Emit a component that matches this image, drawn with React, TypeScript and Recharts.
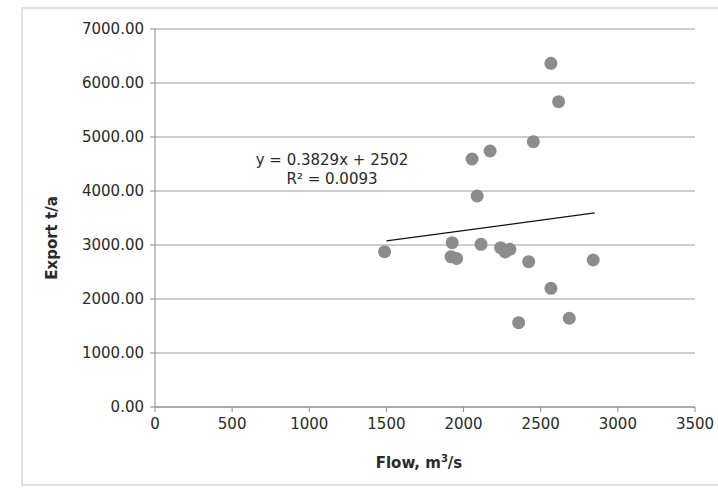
import React from "react";
import { ScatterChart, Scatter, XAxis, YAxis, CartesianGrid, ReferenceLine } from "recharts";

const flow = [1488, 1926, 1919, 1955, 2113, 2240, 2300, 2270, 2422, 2840, 2566, 2357, 2685, 2088, 2055, 2172, 2452, 2616, 2566];
const exportVals = [2876, 3043, 2783, 2750, 3013, 2950, 2920, 2870, 2691, 2722, 2198, 1561, 1643, 3907, 4593, 4741, 4913, 5654, 6365];
const xTicks = [0, 500, 1000, 1500, 2000, 2500, 3000, 3500];
const yTicks = [0, 1000, 2000, 3000, 4000, 5000, 6000, 7000];
const slope = 0.3829;
const intercept = 2502;
const trendRange = [1500, 2850];
const equationText = "y = 0.3829x + 2502";
const r2Text = "R\u00b2 = 0.0093";

const points = flow.map((x, i) => ({ x, y: exportVals[i] }));
const trend = trendRange.map((x) => ({ x, y: slope * x + intercept }));

const FONT = "'DejaVu Sans', 'Liberation Sans', Arial, sans-serif";

const Dot = (props: any) => {
  const { cx, cy } = props;
  return <circle cx={cx} cy={cy} r={6.5} fill="#8c8c8c" />;
};

const XTitle = (props: any) => {
  const vb = props.viewBox || {};
  const cx = (vb.x ?? 155) + (vb.width ?? 540) / 2 - 6;
  return (
    <text x={cx} y={468} textAnchor="middle" fontFamily={FONT} fontSize={15} fontWeight="bold" fill="#2a2a2a">
      <tspan>Flow, m</tspan>
      <tspan fontSize={10} dy={-6}>3</tspan>
      <tspan dy={6}>/s</tspan>
    </text>
  );
};

const YTitle = () => (
  <text
    x={52}
    y={238}
    textAnchor="middle"
    dominantBaseline="central"
    transform="rotate(-90 52 238)"
    fontFamily={FONT}
    fontSize={15}
    fontWeight="bold"
    fill="#2a2a2a"
  >
    Export t/a
  </text>
);

export default function App() {
  return (
    <div style={{ position: "absolute", left: 0, top: 0, width: 718, height: 490, background: "#fff", overflow: "hidden" }}>
      <div
        style={{
          position: "absolute",
          left: 21,
          top: 7,
          width: 720,
          height: 479,
          border: "2px solid #e2e2e2",
          boxSizing: "border-box",
        }}
      />
      <ScatterChart
        width={718}
        height={490}
        margin={{ top: 29, right: 23, bottom: 23, left: 0 }}
        style={{ position: "absolute", left: 0, top: 0 }}
      >
        <CartesianGrid horizontal vertical={false} stroke="#bdbdbd" strokeWidth={1.5} />
        <XAxis
          type="number"
          dataKey="x"
          domain={[0, 3500]}
          ticks={xTicks}
          interval={0}
          height={60}
          tickSize={5}
          tickMargin={6}
          stroke="#8a8a8a"
          tick={{ fontFamily: FONT, fontSize: 15, fill: "#2a2a2a" }}
          label={{ content: <XTitle /> } as any}
        />
        <YAxis
          type="number"
          dataKey="y"
          domain={[0, 7000]}
          ticks={yTicks}
          interval={0}
          width={155}
          tickSize={5}
          tickMargin={6}
          stroke="#8a8a8a"
          tickFormatter={(v: number) => v.toFixed(2)}
          tick={{ fontFamily: FONT, fontSize: 15, fill: "#2a2a2a" }}
          label={{ content: <YTitle /> } as any}
        />
        <Scatter data={points} shape={<Dot />} isAnimationActive={false} />
        <ReferenceLine
          segment={[trend[0], trend[1]]}
          stroke="#111"
          strokeWidth={1.3}
          ifOverflow="visible"
        />
      </ScatterChart>
      <div
        style={{
          position: "absolute",
          left: 232,
          top: 151,
          width: 200,
          textAlign: "center",
          fontFamily: FONT,
          fontSize: 15,
          lineHeight: "19px",
          color: "#2a2a2a",
          whiteSpace: "pre",
        }}
      >
        <div>{equationText}</div>
        <div>{r2Text}</div>
      </div>
    </div>
  );
}
